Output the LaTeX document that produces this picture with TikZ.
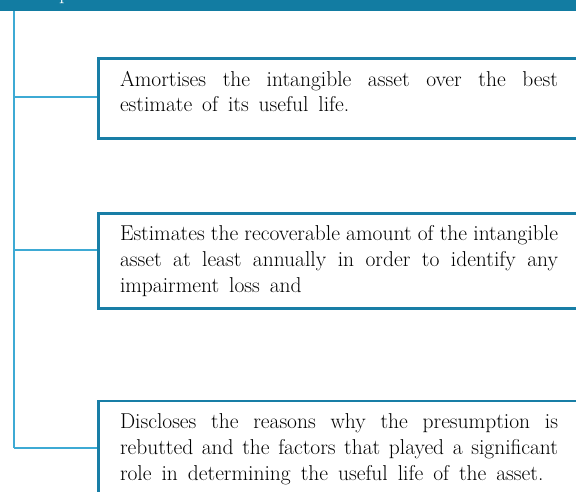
\documentclass[tikz,border=0pt]{standalone}
\usepackage{fontspec}
\newcommand{\widewords}{\spaceskip=10pt\relax}
\begin{document}
\begin{tikzpicture}[x=1pt,y=-1pt,
  bar/.style={fill=barblue,draw=none},
  trunk/.style={draw=trunkblue,line width=1.3pt},
  box/.style={draw=boxblue,line width=2.6pt,fill=white,rectangle,inner sep=0pt},
  txt/.style={anchor=base west,inner sep=0pt,outer sep=0pt,font=\fontsize{21.5}{26}\selectfont},
  ttl/.style={anchor=base west,inner sep=0pt,text=white,font=\fontsize{21.5}{26}\selectfont}]
\definecolor{barblue}{RGB}{18,124,162}
\definecolor{trunkblue}{RGB}{62,170,212}
\definecolor{boxblue}{RGB}{24,126,166}
\useasboundingbox (0,0) rectangle (576,492);
\clip (0,0) rectangle (576,492);
\fill[bar] (0,0) rectangle (576,11.5);
\node[ttl] (title) at (59,0) {p};
% junction coordinates
\coordinate (top) at (14,11.5);
\coordinate (j1) at (14,97);
\coordinate (j2) at (14,250);
\coordinate (j3) at (14,448);
% boxes
\node[box,minimum width=500pt,minimum height=80.5pt,anchor=north west] (b1) at (97,57) {};
\node[box,minimum width=500pt,minimum height=95pt,anchor=north west] (b2) at (97,212) {};
\node[box,minimum width=500pt,minimum height=120pt,anchor=north west] (b3) at (97,399.5) {};
% connectors
\draw[trunk] (top) -- (j3);
\draw[trunk] (j1) -- (j1 -| b1.west);
\draw[trunk] (j2) -- (j2 -| b2.west);
\draw[trunk] (j3) -- (j3 -| b3.west);
% texts
\node[txt] (b1l1) at (120,86.5) {\makebox[438pt][s]{Amortises the intangible asset over the best}};
\node[txt] (b1l2) at (120,112) {\widewords estimate of its useful life.};
\node[txt] (b2l1) at (120,240.7) {\makebox[438pt][s]{Estimates the recoverable amount of the intangible}};
\node[txt] (b2l2) at (120,266.7) {\makebox[438pt][s]{asset at least annually in order to identify any}};
\node[txt] (b2l3) at (120,292) {\widewords impairment loss and};
\node[txt] (b3l1) at (120,428) {\makebox[438pt][s]{Discloses the reasons why the presumption is}};
\node[txt] (b3l2) at (120,454) {\makebox[438pt][s]{rebutted and the factors that played a significant}};
\node[txt] (b3l3) at (120,480) {\widewords role in determining the useful life of the asset.};
\end{tikzpicture}
\end{document}
